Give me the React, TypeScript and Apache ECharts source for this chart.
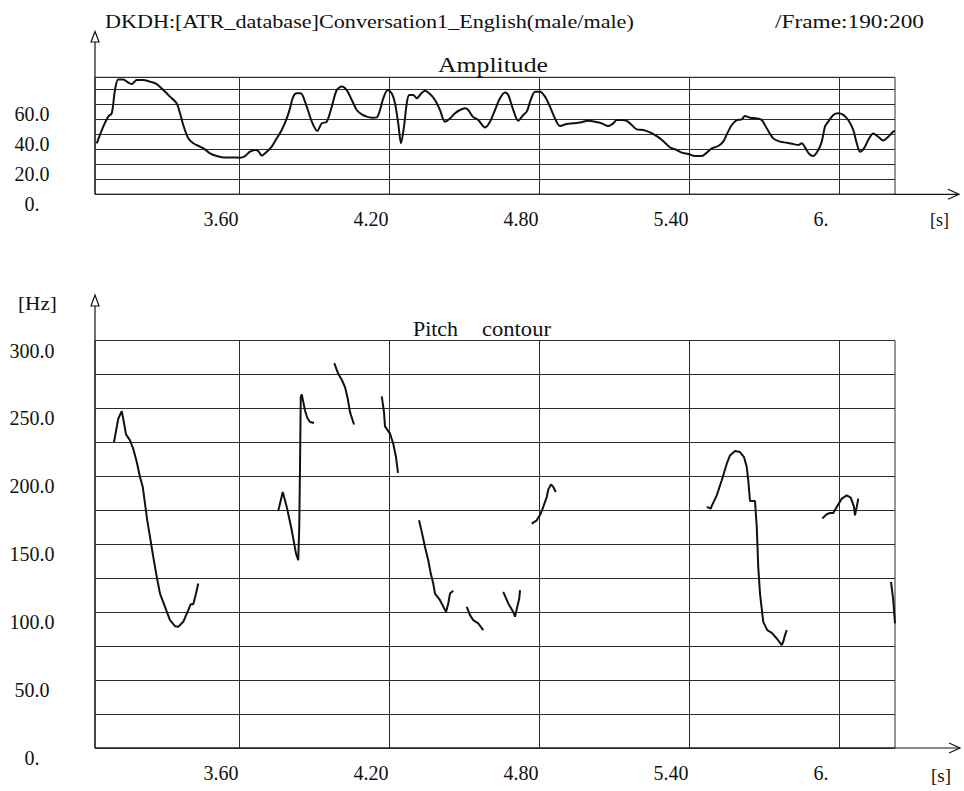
import React, { useEffect, useRef } from "react";
import * as echarts from "echarts";

// ---------- data ----------
const timeTicks = [3.6, 4.2, 4.8, 5.4, 6.0];
const timeMin = 3.024;
const timeMax = 6.224;

const ampTimes = [
  3.031, 3.057, 3.077, 3.091, 3.104, 3.117, 3.137, 3.157, 3.171, 3.191, 3.217, 3.244, 3.271, 3.297, 3.324,
  3.351, 3.364, 3.377, 3.397, 3.417, 3.444, 3.464, 3.484, 3.511, 3.537, 3.577, 3.604, 3.624, 3.644, 3.664,
  3.677, 3.691, 3.711, 3.731, 3.751, 3.771, 3.791, 3.804, 3.817, 3.831, 3.847, 3.864, 3.884, 3.897, 3.913,
  3.931, 3.951, 3.971, 3.991, 4.011, 4.031, 4.051, 4.071, 4.091, 4.111, 4.131, 4.151, 4.164, 4.177, 4.195,
  4.211, 4.224, 4.237, 4.248, 4.26, 4.271, 4.281, 4.297, 4.311, 4.327, 4.344, 4.364, 4.384, 4.404, 4.424,
  4.444, 4.464, 4.484, 4.504, 4.517, 4.535, 4.557, 4.584, 4.604, 4.624, 4.644,
  4.664, 4.677, 4.695, 4.717, 4.737, 4.751, 4.767, 4.784, 4.804, 4.824, 4.844, 4.864, 4.884, 4.911, 4.937,
  4.964, 4.997, 5.024, 5.051, 5.077, 5.097, 5.111, 5.131, 5.151, 5.171, 5.191, 5.217, 5.244, 5.264, 5.284,
  5.304, 5.324, 5.351, 5.371, 5.397, 5.424, 5.451, 5.471, 5.491, 5.517, 5.537, 5.553, 5.571, 5.591, 5.611,
  5.624, 5.644, 5.671, 5.691, 5.711, 5.737, 5.764, 5.791, 5.817, 5.837, 5.851, 5.864, 5.881, 5.897, 5.917,
  5.931, 5.944, 5.957, 5.977, 5.997, 6.017, 6.037, 6.057, 6.071, 6.084, 6.1, 6.117, 6.137, 6.157, 6.177,
  6.197, 6.217, 6.224,
];
const ampValues = [
  34.0, 45.1, 51.8, 54.0, 69.5, 76.6, 76.6, 74.4, 73.5, 76.2, 76.2, 75.1, 73.5, 69.5, 65.1,
  60.6, 54.0, 46.2, 37.3, 34.0, 31.8, 30.0, 27.3, 25.5, 24.6, 24.6, 24.4, 25.5, 28.4, 29.5,
  28.9, 25.8, 28.4, 31.8, 37.3, 42.9, 50.6, 57.3, 65.1, 67.3, 67.3, 61.8, 51.8, 46.2, 42.2,
  47.3, 48.4, 58.4, 69.5, 71.8, 69.5, 62.9, 56.2, 53.3, 51.8, 51.1, 51.3, 56.2, 64.0, 69.5,
  67.3, 60.6, 47.3, 34.0, 45.1, 60.6, 66.2, 66.2, 64.0, 66.9, 69.1, 66.9, 62.9, 56.2, 48.4,
  50.6, 54.0, 56.2, 57.3, 56.2, 51.8, 49.5, 44.6, 48.4, 56.2, 64.0,
  67.8, 66.2, 57.3, 49.1, 52.9, 55.1, 62.9, 68.4, 68.4, 65.1, 58.4, 50.6, 45.5, 46.9, 47.3,
  47.8, 49.1, 48.4, 47.3, 45.5, 47.3, 49.5, 49.5, 48.9, 46.2, 43.3, 42.9, 41.3, 39.5, 37.3,
  34.4, 31.3, 29.5, 27.8, 26.9, 25.5, 25.5, 27.8, 30.6, 32.2, 35.1, 40.6, 46.2, 49.5, 50.0,
  52.2, 51.1, 50.6, 49.5, 44.0, 37.3, 35.1, 34.4, 33.5, 32.9, 34.0, 31.3, 26.9, 25.5, 29.5,
  35.1, 45.1, 48.4, 52.9, 54.0, 52.9, 49.5, 42.9, 34.0, 28.4, 30.6, 36.2, 40.6, 38.4, 35.8,
  38.4, 41.8, 42.2,
];

const pitchSeg1 = [
  [3.1, 225.2], [3.117, 242.4], [3.131, 248.0], [3.137, 242.4], [3.148, 230.9], [3.164, 226.5],
  [3.177, 220.3], [3.191, 210.5], [3.204, 199.5], [3.215, 192.2], [3.224, 179.9], [3.233, 167.6],
  [3.244, 155.4], [3.257, 140.7], [3.271, 126.0], [3.284, 113.7], [3.304, 103.9], [3.324, 94.1],
  [3.344, 89.7], [3.357, 89.2], [3.377, 92.9], [3.397, 101.5], [3.407, 105.9], [3.417, 105.9],
  [3.428, 113.7], [3.437, 121.1],
];
const pitchSeg2 = [
  [3.757, 174.5], [3.775, 188.5], [3.791, 177.5], [3.811, 160.3], [3.828, 143.1], [3.837, 138.2],
  [3.841, 162.7], [3.844, 206.9], [3.847, 258.3], [3.851, 260.3], [3.864, 248.5], [3.873, 243.1],
  [3.884, 240.0], [3.9, 239.2],
];
const pitchSeg3 = [
  [3.981, 283.3], [3.997, 275.5], [4.011, 271.1], [4.024, 265.7], [4.035, 257.1], [4.044, 247.3],
  [4.06, 238.2],
];
const pitchSeg4 = [
  [4.171, 258.8], [4.18, 247.3], [4.184, 236.8], [4.204, 231.4], [4.217, 224.0], [4.228, 214.2],
  [4.236, 202.5],
];
const pitchSeg5 = [
  [4.32, 167.6], [4.331, 159.1], [4.344, 148.0], [4.357, 138.2], [4.367, 128.4], [4.377, 121.1],
  [4.384, 113.7], [4.404, 108.8], [4.428, 100.2], [4.437, 106.4], [4.444, 113.7], [4.457, 115.7],
];
const pitchSeg6 = [[4.511, 103.9], [4.524, 97.8], [4.537, 94.1], [4.557, 91.7], [4.577, 86.8]];
const pitchSeg7 = [
  [4.657, 115.0], [4.677, 106.4], [4.697, 100.2], [4.704, 96.6], [4.713, 103.9], [4.721, 110.0],
  [4.724, 116.2],
];
const pitchSeg8 = [
  [4.771, 165.2], [4.791, 167.6], [4.807, 172.5], [4.817, 177.5], [4.831, 184.8], [4.837, 190.2],
  [4.848, 194.1], [4.857, 192.2], [4.867, 188.5],
];
const pitchSeg9 = [
  [5.471, 177.5], [5.487, 176.2], [5.491, 178.2], [5.511, 186.0], [5.531, 197.1], [5.551, 209.3],
  [5.564, 215.4], [5.584, 218.6], [5.604, 217.9], [5.62, 214.2], [5.631, 206.9], [5.637, 197.1],
  [5.644, 181.9], [5.664, 181.9], [5.671, 162.7], [5.677, 133.3], [5.684, 113.7], [5.697, 92.9],
  [5.713, 86.8], [5.731, 84.8], [5.751, 80.6], [5.771, 75.7], [5.777, 78.2], [5.784, 83.1],
  [5.791, 86.8],
];
const pitchSeg10 = [
  [5.933, 168.9], [5.951, 172.1], [5.964, 173.0], [5.977, 173.0], [5.991, 177.5], [6.011, 183.6],
  [6.031, 186.0], [6.047, 184.3], [6.06, 177.5], [6.064, 171.3], [6.071, 177.5], [6.077, 183.6],
];
const pitchSeg11 = [[6.208, 122.3], [6.217, 108.8], [6.224, 91.7]];

const pitchSegments = [
  pitchSeg1, pitchSeg2, pitchSeg3, pitchSeg4, pitchSeg5, pitchSeg6,
  pitchSeg7, pitchSeg8, pitchSeg9, pitchSeg10, pitchSeg11,
];

const titleText = "DKDH:[ATR_database]Conversation1_English(male/male)";
const frameText = "/Frame:190:200";

// ---------- layout ----------
const FONT = "Liberation Serif";
const INK = "#111";
const GRID_INK = "#2b2b2b";
const PL = 95;
const PR = 895;
const A_TOP = 77.3;
const A_BOT = 194.3;
const P_TOP = 340.5;
const P_BOT = 748;
const LABEL_SIZE = 20;

function measure(text: string, size: number): number {
  const ctx = document.createElement("canvas").getContext("2d");
  if (!ctx) return text.length * size * 0.5;
  ctx.font = `${size}px "${FONT}"`;
  return ctx.measureText(text).width;
}

function textEl(text: string, left: number, right: number, cy: number, size: number) {
  const w = measure(text, size);
  return {
    type: "text",
    x: left,
    y: cy,
    scaleX: (right - left) / w,
    silent: true,
    style: {
      text,
      fontFamily: FONT,
      fontSize: size,
      fill: INK,
      textAlign: "left",
      align: "left",
      textVerticalAlign: "middle",
      verticalAlign: "middle",
    },
  };
}

function lineEl(x1: number, y1: number, x2: number, y2: number) {
  return {
    type: "line",
    silent: true,
    shape: { x1, y1, x2, y2 },
    style: { stroke: INK, lineWidth: 1.2 },
  };
}

function timeLabel(v: number): string {
  if (Math.abs(v - 6) < 1e-6) return "6.";
  return v.toFixed(2);
}

function ampLabel(v: number): string {
  if (v === 0) return "0.";
  if (v === 20 || v === 40 || v === 60) return v.toFixed(1);
  return "";
}

function pitchLabel(v: number): string {
  if (v === 0) return "0.";
  if (v % 50 === 0 && v <= 300) return v.toFixed(1);
  return "";
}

export default function App() {
  const ref = useRef<HTMLDivElement>(null);

  useEffect(() => {
    if (!ref.current) return;
    const chart = echarts.init(ref.current, null, { renderer: "svg" });

    const xAxisBase = (gridIndex: number) => ({
      type: "value",
      gridIndex,
      min: timeMin,
      max: timeMax,
      axisLine: { show: false },
      axisTick: { show: false, customValues: timeTicks },
      splitLine: { show: true, lineStyle: { color: GRID_INK, width: 1 } },
      axisLabel: {
        customValues: timeTicks,
        formatter: timeLabel,
        fontFamily: FONT,
        fontSize: LABEL_SIZE,
        color: INK,
        margin: 15,
        align: "center",
        padding: [0, 36, 0, 0],
      },
    });

    const yLabelStyle = {
      fontFamily: FONT,
      fontSize: LABEL_SIZE,
      color: INK,
      margin: 63,
      align: "center",
      verticalAlign: "top",
    };

    const ampData = ampTimes.map((t, i) => [t, ampValues[i]]);

    const pitchSeries = pitchSegments.map((seg, i) => ({
      type: "line",
      name: "pitch" + (i + 1),
      xAxisIndex: 1,
      yAxisIndex: 1,
      data: seg,
      showSymbol: false,
      symbol: "none",
      lineStyle: { color: INK, width: 2 },
      silent: true,
    }));

    const option: any = {
      animation: false,
      backgroundColor: "#ffffff",
      grid: [
        {
          left: PL,
          top: A_TOP,
          width: PR - PL,
          height: A_BOT - A_TOP,
          show: true,
          borderColor: GRID_INK,
          borderWidth: 1,
        },
        {
          left: PL,
          top: P_TOP,
          width: PR - PL,
          height: P_BOT - P_TOP,
          show: true,
          borderColor: GRID_INK,
          borderWidth: 1,
        },
      ],
      xAxis: [xAxisBase(0), xAxisBase(1)],
      yAxis: [
        {
          type: "value",
          gridIndex: 0,
          min: 0,
          max: 78,
          interval: 10,
          axisLine: { show: false },
          axisTick: { show: false },
          splitLine: { show: true, lineStyle: { color: GRID_INK, width: 1 } },
          axisLabel: { ...yLabelStyle, formatter: ampLabel },
        },
        {
          type: "value",
          gridIndex: 1,
          min: 0,
          max: 300,
          interval: 25,
          axisLine: { show: false },
          axisTick: { show: false },
          splitLine: { show: true, lineStyle: { color: GRID_INK, width: 1 } },
          axisLabel: { ...yLabelStyle, formatter: pitchLabel },
        },
      ],
      series: [
        {
          type: "line",
          name: "Amplitude",
          xAxisIndex: 0,
          yAxisIndex: 0,
          data: ampData,
          showSymbol: false,
          symbol: "none",
          smooth: 0.3,
          lineStyle: { color: INK, width: 2 },
          silent: true,
        },
        ...pitchSeries,
      ],
      graphic: [
        textEl(titleText, 105, 634, 22, 18),
        textEl(frameText, 775, 924, 22, 18),
        textEl("Amplitude", 438, 548, 65, 22),
        textEl("Pitch", 413, 458, 329.5, 20),
        textEl("contour", 482, 551, 329.5, 20),
        textEl("[s]", 930, 949, 220, 19),
        textEl("[s]", 931, 951, 775, 19),
        textEl("[Hz]", 18, 57, 303, 19),
        // amplitude axes
        lineEl(PL, 42, PL, A_BOT),
        {
          type: "polygon",
          silent: true,
          shape: { points: [[PL, 31.5], [PL - 4, 42], [PL + 4, 42]] },
          style: { fill: "#fff", stroke: INK, lineWidth: 1.2 },
        },
        lineEl(PL, A_BOT, 959, A_BOT),
        {
          type: "polyline",
          silent: true,
          shape: { points: [[948, A_BOT - 5], [959, A_BOT], [948, A_BOT + 5]] },
          style: { fill: "none", stroke: INK, lineWidth: 1.2 },
        },
        // pitch axes
        lineEl(PL, 306, PL, P_BOT),
        {
          type: "polygon",
          silent: true,
          shape: { points: [[PL, 295], [PL - 4, 306], [PL + 4, 306]] },
          style: { fill: "#fff", stroke: INK, lineWidth: 1.2 },
        },
        lineEl(PL, P_BOT, 960, P_BOT),
        {
          type: "polyline",
          silent: true,
          shape: { points: [[949, P_BOT - 5], [960, P_BOT], [949, P_BOT + 5]] },
          style: { fill: "none", stroke: INK, lineWidth: 1.2 },
        },
      ],
    };

    chart.setOption(option);
    return () => chart.dispose();
  }, []);

  return (
    <div
      ref={ref}
      style={{ position: "fixed", left: 0, top: 0, width: 964, height: 791, background: "#fff" }}
    />
  );
}
